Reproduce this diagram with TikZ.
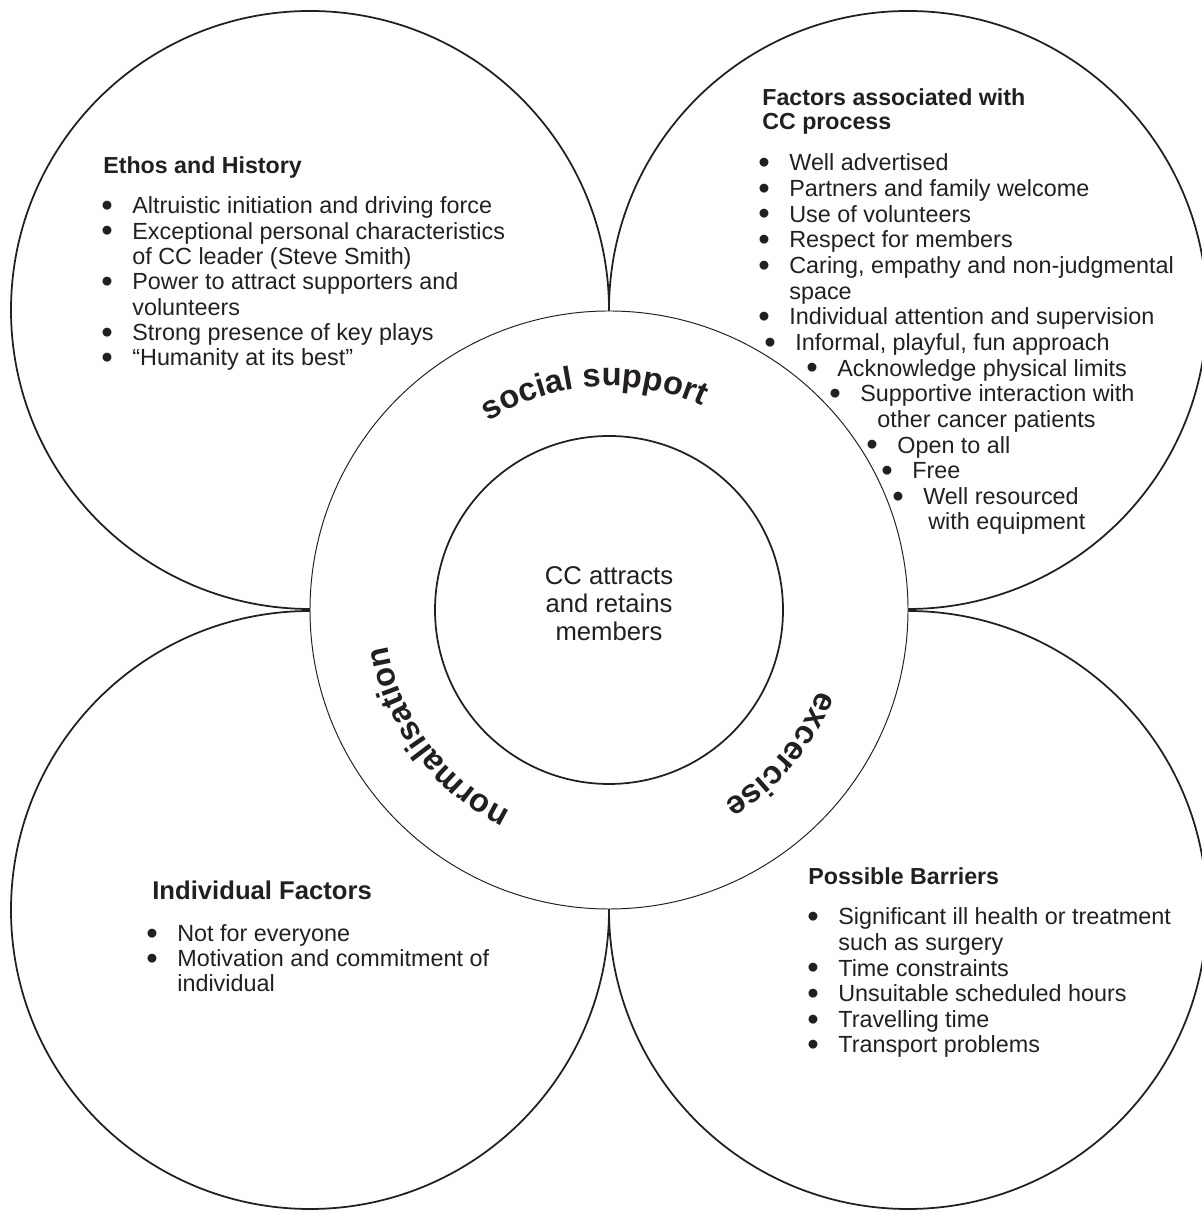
\documentclass[tikz,border=0pt]{standalone}
\usepackage{fontspec}
\setmainfont{Liberation Sans}
\usetikzlibrary{decorations.text}
\definecolor{cInk}{RGB}{35,31,32}
\tikzset{
  bigc/.style    = {draw=cInk, line width=1pt},
  ringo/.style   = {draw=cInk, fill=white, line width=0.55pt},
  ringi/.style   = {draw=cInk, line width=1pt},
  head/.style    = {font=\bfseries\fontsize{13.2pt}{14.2pt}\selectfont,
                    text=cInk, align=left, inner sep=0pt, anchor=base west},
  items/.style   = {font=\fontsize{13.3pt}{14.45pt}\selectfont, text=cInk,
                    align=left, inner sep=0pt, anchor=base west},
  hub/.style     = {font=\fontsize{14.6pt}{16.1pt}\selectfont, text=cInk,
                    align=center, inner sep=0pt, anchor=base},
  ringtxt/.style = {decorate, decoration={text along path, text align=center,
                    text color=cInk,
                    text={|\bfseries\fontsize{18.6pt}{20pt}\selectfont|#1}}},
}
\newcommand\bul{\llap{\raisebox{-0.12em}{\scalebox{1.4}{\textbullet}}\hspace{0.39cm}}}

\begin{document}
\begin{tikzpicture}[x=0.02cm, y=0.02cm]
  \useasboundingbox (0,0) rectangle (1201,1213);

  % ---- four outer circles --------------------------------------------
  \coordinate (ethosC) at (310,903);
  \coordinate (procC)  at (908,903);
  \coordinate (indivC) at (310,303);
  \coordinate (barrC)  at (908,303);
  \foreach \c in {ethosC, procC, indivC, barrC}
    \draw[bigc] (\c) circle[radius=299];

  % ---- central ring ---------------------------------------------------
  \coordinate (ctr) at (609,603);
  \draw[ringo] (ctr) circle[radius=299];
  \draw[ringi] (ctr) circle[radius=174];

  \path[ringtxt={social support}]
    ([shift={(160:224)}]ctr) arc[start angle=160, end angle=28, radius=224];
  \path[ringtxt={excercise}]
    ([shift={(30:224)}]ctr) arc[start angle=30, end angle=-110, radius=224];
  \path[ringtxt={normalisation}]
    ([shift={(290:224)}]ctr) arc[start angle=290, end angle=143, radius=224];

  % (multi-line nodes sit on the baseline of their last line)
  \node[hub] (hubT) at (609,572) {CC attracts\\and retains\\members};

  % ---- top left: ethos -------------------------------------------------
  \node[head] (ethosH) at (103,1039) {Ethos and History};
  \node[items] (ethosL) at (132,847) {\bul Altruistic initiation and driving force\\
    \bul Exceptional personal characteristics\\
    of CC leader (Steve Smith)\\
    \bul Power to attract supporters and\\
    volunteers\\
    \bul Strong presence of key plays\\
    \bul “Humanity at its best”};

  % ---- top right: process ----------------------------------------------
  \node[head] (procH) at (762,1083) {Factors associated with\\CC process};
  \node[items, font=\fontsize{13.3pt}{14.6pt}\selectfont] (procL) at (789,683)
   {\bul Well advertised\\
    \bul Partners and family welcome\\
    \bul Use of volunteers\\
    \bul Respect for members\\
    \bul Caring, empathy and non-judgmental\\
    space\\
    \bul Individual attention and supervision\\
    \hspace*{0.12cm}\bul Informal, playful, fun approach\\
    \hspace*{0.96cm}\bul Acknowledge physical limits\\
    \hspace*{1.42cm}\bul Supportive interaction with\\
    \hspace*{1.76cm}other cancer patients\\
    \hspace*{2.16cm}\bul Open to all\\
    \hspace*{2.46cm}\bul Free\\
    \hspace*{2.68cm}\bul Well resourced\\
    \hspace*{2.78cm}with equipment};

  % ---- bottom left: individual -----------------------------------------
  \node[head, font=\bfseries\fontsize{14.6pt}{16pt}\selectfont] (indivH)
    at (152,313) {Individual Factors};
  \node[items] (indivL) at (177,221) {\bul Not for everyone\\
    \bul Motivation and commitment of\\
    individual};

  % ---- bottom right: barriers ------------------------------------------
  \node[head] (barrH) at (808,328) {Possible Barriers};
  \node[items, font=\fontsize{13.3pt}{14.6pt}\selectfont] (barrL) at (838,160)
   {\bul Significant ill health or treatment\\
    such as surgery\\
    \bul Time constraints\\
    \bul Unsuitable scheduled hours\\
    \bul Travelling time\\
    \bul Transport problems};

\end{tikzpicture}
\end{document}
